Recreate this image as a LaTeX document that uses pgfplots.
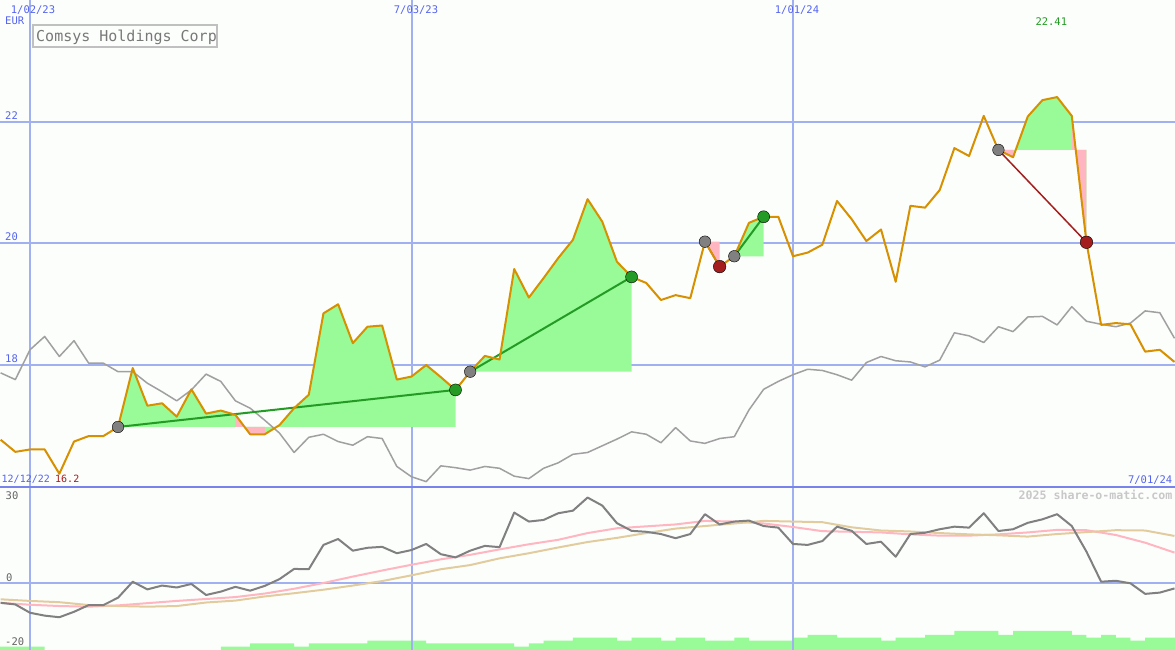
\documentclass[border=0pt]{standalone}
\usepackage{fontspec}
\setmainfont{DejaVu Sans Mono}
\newfontfamily\mono{DejaVu Sans Mono}
\usepackage{pgfplots}
\usepackage{pgfplotstable}
\pgfplotsset{compat=1.18}
\definecolor{bgc}{RGB}{252,254,252}
\definecolor{gridc}{RGB}{160,176,240}
\definecolor{sepc}{RGB}{120,132,236}
\definecolor{lblue}{RGB}{85,100,240}
\definecolor{orng}{RGB}{214,144,0}
\definecolor{greyl}{RGB}{160,160,160}
\definecolor{pgreen}{RGB}{152,251,152}
\definecolor{lpink}{RGB}{255,182,193}
\definecolor{dgreen}{RGB}{36,155,36}
\definecolor{dred}{RGB}{165,30,30}
\definecolor{tanc}{RGB}{226,204,158}
\definecolor{dgrey}{RGB}{128,128,128}
\definecolor{wm}{RGB}{200,200,200}
\definecolor{lbl}{RGB}{100,100,100}
\definecolor{boxc}{RGB}{192,192,192}
\definecolor{boxt}{RGB}{120,120,120}

\pgfplotstableread[row sep=\\]{
w p g\\
-2 16.77 17.87\\ -1 16.57 17.76\\ 0 16.61 18.25\\ 1 16.61 18.47\\ 2 16.21 18.14\\
3 16.74 18.40\\ 4 16.83 18.03\\ 5 16.83 18.03\\ 6 16.98 17.89\\ 7 17.95 17.89\\
8 17.33 17.70\\ 9 17.37 17.56\\ 10 17.15 17.41\\ 11 17.60 17.59\\ 12 17.20 17.85\\
13 17.25 17.73\\ 14 17.18 17.41\\ 15 16.86 17.29\\ 16 16.86 17.09\\ 17 17.01 16.88\\
18 17.29 16.56\\ 19 17.51 16.81\\ 20 18.85 16.86\\ 21 19.00 16.74\\ 22 18.36 16.68\\
23 18.63 16.82\\ 24 18.65 16.79\\ 25 17.76 16.33\\ 26 17.81 16.16\\ 27 18.00 16.08\\
28 17.80 16.34\\ 29 17.59 16.31\\ 30 17.89 16.27\\ 31 18.15 16.33\\ 32 18.09 16.30\\
33 19.58 16.17\\ 34 19.11 16.13\\ 35 19.43 16.30\\ 36 19.76 16.39\\ 37 20.06 16.53\\
38 20.73 16.56\\ 39 20.36 16.67\\ 40 19.70 16.78\\ 41 19.45 16.90\\ 42 19.35 16.86\\
43 19.07 16.72\\ 44 19.15 16.97\\ 45 19.10 16.75\\ 46 20.03 16.71\\ 47 19.62 16.79\\
48 19.79 16.82\\ 49 20.34 17.26\\ 50 20.44 17.60\\ 51 20.44 17.73\\ 52 19.79 17.84\\
53 19.85 17.93\\ 54 19.98 17.91\\ 55 20.70 17.84\\ 56 20.40 17.75\\ 57 20.04 18.04\\
58 20.23 18.14\\ 59 19.37 18.07\\ 60 20.62 18.05\\ 61 20.59 17.97\\ 62 20.88 18.08\\
63 21.57 18.53\\ 64 21.44 18.48\\ 65 22.10 18.37\\ 66 21.54 18.63\\ 67 21.42 18.55\\
68 22.09 18.79\\ 69 22.36 18.80\\ 70 22.41 18.66\\ 71 22.10 18.96\\ 72 20.02 18.72\\
73 18.66 18.67\\ 74 18.69 18.63\\ 75 18.67 18.69\\ 76 18.22 18.89\\ 77 18.25 18.86\\
78 18.05 18.44\\
}\pricetab

\pgfplotstableread[row sep=\\]{
w m\\
-2 -6.2\\ -1 -6.7\\ 0 -9.3\\ 1 -10.2\\ 2 -10.7\\ 3 -9.0\\ 4 -6.9\\ 5 -6.9\\ 6 -4.6\\
7 0.4\\ 8 -2.0\\ 9 -0.8\\ 10 -1.4\\ 11 -0.3\\ 12 -3.75\\ 13 -2.7\\ 14 -1.2\\ 15 -2.4\\
16 -0.9\\ 17 1.2\\ 18 4.4\\ 19 4.3\\ 20 11.9\\ 21 13.75\\ 22 10.1\\ 23 11.0\\ 24 11.3\\
25 9.3\\ 26 10.3\\ 27 12.2\\ 28 9.0\\ 29 8.0\\ 30 10.1\\ 31 11.6\\ 32 11.2\\ 33 22.0\\
34 19.2\\ 35 19.7\\ 36 21.8\\ 37 22.6\\ 38 26.7\\ 39 24.2\\ 40 18.7\\ 41 16.3\\ 42 16.0\\
43 15.3\\ 44 14.0\\ 45 15.3\\ 46 21.5\\ 47 18.3\\ 48 19.2\\ 49 19.5\\ 50 17.8\\ 51 17.3\\
52 12.2\\ 53 11.9\\ 54 13.1\\ 55 17.6\\ 56 16.3\\ 57 12.2\\ 58 12.9\\ 59 8.2\\ 60 15.3\\
61 15.7\\ 62 16.8\\ 63 17.6\\ 64 17.3\\ 65 21.8\\ 66 16.25\\ 67 16.8\\ 68 18.8\\ 69 19.9\\
70 21.5\\ 71 17.8\\ 72 9.8\\ 73 0.4\\ 74 0.7\\ 75 -0.1\\ 76 -3.4\\ 77 -3.0\\ 78 -1.7\\
}\momtab

\pgfplotstableread[row sep=\\]{
w pk tn\\
-2 -6.2 -5.1\\ 0 -6.8 -5.6\\ 2 -7.2 -6.0\\ 4 -7.4 -6.9\\ 6 -7.0 -7.2\\ 8 -6.3 -7.4\\
10 -5.6 -7.2\\ 12 -5.0 -6.1\\ 14 -4.4 -5.5\\ 16 -3.3 -4.2\\ 18 -1.8 -3.2\\ 20 0.0 -2.1\\
22 2.0 -0.8\\ 24 3.9 0.6\\ 26 5.7 2.4\\ 28 7.4 4.3\\ 30 8.8 5.6\\ 32 10.5 7.7\\
34 12.1 9.3\\ 36 13.5 11.1\\ 38 15.6 12.8\\ 40 17.1 14.1\\ 42 17.7 15.6\\ 44 18.3 17.0\\
46 19.4 17.8\\ 48 19.2 18.6\\ 50 18.6 19.4\\ 52 17.5 19.2\\ 54 16.2 19.0\\ 56 16.0 17.4\\
58 15.8 16.4\\ 60 15.2 16.1\\ 62 14.8 15.6\\ 64 14.8 15.2\\ 66 15.2 14.9\\ 68 15.8 14.5\\
70 16.6 15.3\\ 72 16.5 15.9\\ 74 15.0 16.5\\ 76 12.6 16.4\\ 78 9.5 14.7\\
}\avgtab

\begin{document}
\begin{tikzpicture}
\useasboundingbox (0pt,0pt) rectangle (1175pt,650pt);
\fill[bgc] (0pt,0pt) rectangle (1175pt,650pt);

% ---------------- upper panel ----------------
\begin{axis}[at={(0pt,163pt)}, anchor=south west, scale only axis,
  width=1175pt, height=487pt,
  xmin=-2.0446, xmax=78.035, ymin=15.992, ymax=24.008,
  hide axis, clip=true]
% grid
\addplot[gridc, line width=2pt] coordinates {(-3,22) (80,22)};
\addplot[gridc, line width=2pt] coordinates {(-3,20) (80,20)};
\addplot[gridc, line width=2pt] coordinates {(-3,18) (80,18)};
\addplot[gridc, line width=2pt] coordinates {(0,15) (0,25)};
\addplot[gridc, line width=2pt] coordinates {(26.03,15) (26.03,25)};
\addplot[gridc, line width=2pt] coordinates {(52,15) (52,25)};
% trade fills
\addplot[fill=pgreen, draw=none] coordinates {(6,16.98) (7,17.95) (8,17.33) (9,17.37) (10,17.15) (11,17.60) (12,17.20) (13,17.25) (14,17.18) (15,16.86) (16,16.86) (17,17.01) (18,17.29) (19,17.51) (20,18.85) (21,19.00) (22,18.36) (23,18.63) (24,18.65) (25,17.76) (26,17.81) (27,18.00) (28,17.80) (29,17.59) (29,16.98)};
\addplot[fill=lpink, draw=none] coordinates {(14,16.98) (14,17.18) (15,16.86) (16,16.86) (16,16.98)};
\addplot[fill=pgreen, draw=none] coordinates {(30,17.89) (31,18.15) (32,18.09) (33,19.58) (34,19.11) (35,19.43) (36,19.76) (37,20.06) (38,20.73) (39,20.36) (40,19.70) (41,19.45) (41,17.89)};
\addplot[fill=lpink, draw=none] coordinates {(46,20.03) (47,19.62) (47,20.03)};
\addplot[fill=pgreen, draw=none] coordinates {(48,19.79) (49,20.34) (50,20.44) (50,19.79)};
\addplot[fill=pgreen, draw=none] coordinates {(66,21.54) (67,21.42) (68,22.09) (69,22.36) (70,22.41) (71,22.10) (72,20.02) (72,21.54)};
\addplot[fill=lpink, draw=none] coordinates {(66,21.54) (67,21.42) (67,21.54)};
\addplot[fill=lpink, draw=none] coordinates {(71,21.54) (71,22.10) (72,20.02) (72,21.54)};
% comparison line
\addplot[greyl, line width=1.5pt, line join=round] table[x=w, y=g] {\pricetab};
% trade lines
\addplot[dgreen, line width=2pt] coordinates {(6,16.98) (29,17.59)};
\addplot[dgreen, line width=2pt] coordinates {(30,17.89) (41,19.45)};
\addplot[dgreen, line width=2pt] coordinates {(48,19.79) (50,20.44)};
\addplot[dred, line width=1.5pt] coordinates {(46,20.03) (47,19.62)};
\addplot[dred, line width=1.5pt] coordinates {(66,21.54) (72,20.02)};
% signal dots
\addplot[only marks, mark=*, mark size=5.8pt, mark options={draw=none, fill=dgrey}] coordinates {(6,16.98) (30,17.89) (46,20.03) (48,19.79) (66,21.54)};
\addplot[only marks, mark=*, mark size=6pt, mark options={draw=none, fill=dgreen}] coordinates {(29,17.59) (41,19.45) (50,20.44)};
\addplot[only marks, mark=*, mark size=6.3pt, mark options={draw=none, fill=dred}] coordinates {(47,19.62) (72,20.02)};
% price line
\addplot[orng, line width=2pt, line join=round] table[x=w, y=p] {\pricetab};
\end{axis}

% ---------------- lower panel ----------------
\begin{axis}[at={(0pt,0pt)}, anchor=south west, scale only axis,
  width=1175pt, height=163pt,
  xmin=-2.0446, xmax=78.035, ymin=-20.9375, ymax=30,
  hide axis, clip=true]
\addplot[const plot, fill=pgreen, draw=none] coordinates {
(-2.1,-21) (-2.1,-19.9) (1,-21) (13,-19.9) (15,-18.84) (18,-19.9) (19,-18.84)
(23,-18.03) (27,-18.84) (33,-19.9) (34,-18.84) (35,-18.03) (37,-17.1) (40,-18.03)
(41,-17.1) (43,-18.03) (44,-17.1) (46,-18.03) (48,-17.1) (49,-18.03) (52,-17.1)
(53,-16.25) (55,-17.1) (58,-18.03) (59,-17.1) (61,-16.25) (63,-15.0) (66,-16.25)
(67,-15.0) (71,-16.25) (72,-17.1) (73,-16.25) (74,-17.1) (75,-18.03) (76,-17.1)
(78.1,-17.1) (78.1,-21)};
\addplot[gridc, line width=2pt] coordinates {(-3,0) (80,0)};
\addplot[gridc, line width=2pt] coordinates {(0,-25) (0,35)};
\addplot[gridc, line width=2pt] coordinates {(26.03,-25) (26.03,35)};
\addplot[gridc, line width=2pt] coordinates {(52,-25) (52,35)};
\addplot[lpink, line width=2pt, line join=round] table[x=w, y=pk] {\avgtab};
\addplot[tanc, line width=2pt, line join=round] table[x=w, y=tn] {\avgtab};
\addplot[dgrey, line width=2pt, line join=round] table[x=w, y=m] {\momtab};
\end{axis}

\draw[sepc, line width=2pt] (0pt,163pt) -- (1175pt,163pt);

% ---------------- texts ----------------
\tikzset{lb/.style={inner sep=0pt, font=\mono\fontsize{10.5}{12}\selectfont},
         ls/.style={inner sep=0pt, font=\mono\fontsize{10}{12}\selectfont}}
\node[lb, lblue, anchor=base] at (33pt,636.7pt) {1/02/23};
\node[lb, lblue, anchor=base] at (416pt,636.7pt) {7/03/23};
\node[lb, lblue, anchor=base] at (797pt,636.7pt) {1/01/24};
\node[lb, lblue, anchor=base west] at (5pt,625pt) {EUR};
\node[lb, lblue, anchor=base west] at (5pt,530.7pt) {22};
\node[lb, lblue, anchor=base west] at (5pt,409.2pt) {20};
\node[lb, lblue, anchor=base west] at (5pt,287.5pt) {18};
\node[ls, lblue, anchor=base west] at (1.5pt,167.3pt) {12/12/22};
\node[ls, dred, anchor=base west] at (55pt,167.3pt) {16.2};
\node[lb, lblue, anchor=base east] at (1172.5pt,166.7pt) {7/01/24};
\node[lb, dgreen, anchor=base] at (1051.3pt,624.3pt) {22.41};
\node[inner sep=0pt, wm, anchor=base east, font=\mono\bfseries\fontsize{11.6}{13}\selectfont] at (1172.5pt,150pt) {2025 share-o-matic.com};
\node[lb, lbl, anchor=base west] at (5.5pt,150pt) {30};
\node[lb, lbl, anchor=base west] at (6pt,68.3pt) {0};
\node[lb, lbl, anchor=base west] at (5pt,4pt) {-20};
\draw[boxc, line width=2pt] (33.3pt,602.7pt) rectangle (217.3pt,624.7pt);
\node[inner sep=0pt, boxt, anchor=base, font=\mono\fontsize{15}{17}\selectfont] at (126.5pt,608.3pt) {Comsys Holdings Corp};
\end{tikzpicture}
\end{document}
